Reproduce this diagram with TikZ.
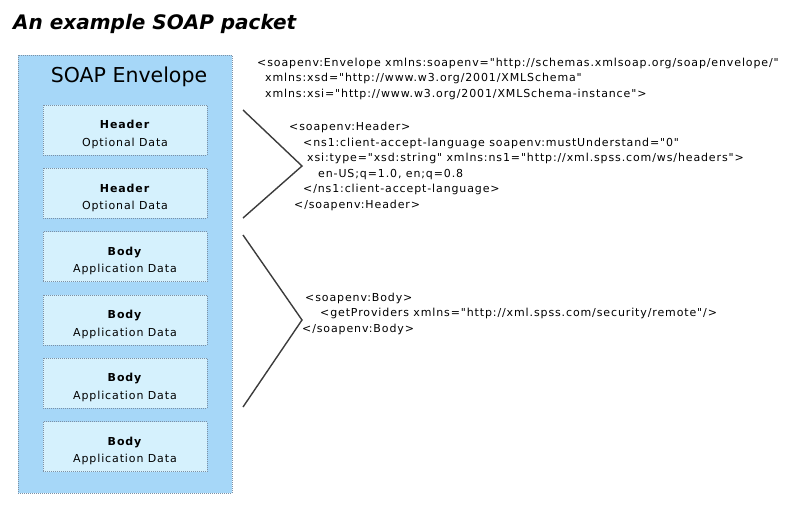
\documentclass[tikz,border=0pt]{standalone}
\usepackage{fontspec}
\setmainfont{DejaVu Sans}
\newfontfamily\xmlfont{DejaVu Sans}[Ligatures=TeXOff,LetterSpace=8]
\newfontfamily\boxfont{DejaVu Sans}[LetterSpace=8]
\usetikzlibrary{positioning}
\definecolor{envfill}{RGB}{166,215,248}
\definecolor{partfill}{RGB}{213,241,253}
\definecolor{edgegray}{RGB}{125,145,165}
\definecolor{chevgray}{RGB}{60,60,60}
\tikzset{
  envbox/.style={draw=edgegray,line width=0.8pt,dash pattern=on 1pt off 1pt,fill=envfill,
                 minimum width=214pt,minimum height=438pt,inner sep=0pt},
  partlbl/.style={align=center,inner sep=0pt,yshift=-4.5pt,font=\boxfont\fontsize{11}{17.5}\selectfont},
  part/.style={draw=edgegray,line width=0.8pt,dash pattern=on 1pt off 1pt,fill=partfill,
               minimum width=164pt,minimum height=50pt,inner sep=0pt,
               label={[partlbl]center:{#1}}},
  xml/.style={anchor=base west,align=left,inner sep=0pt,font=\xmlfont\fontsize{11}{15.5}\selectfont},
  chevron/.style={draw=chevgray,line width=1.4pt},
}
\begin{document}
\begin{tikzpicture}[x=1pt,y=-1pt]
  \useasboundingbox (0,0) rectangle (800,507);
  \node[anchor=base west,inner sep=0pt,font=\fontsize{20}{24}\selectfont\bfseries\itshape] (title) at (13,29) {An example SOAP packet};
  \node[envbox] (env) at (125,274) {};
  \node[anchor=base,inner sep=0pt,font=\fontsize{20.5}{24}\selectfont] (envname) at (129,82) {SOAP Envelope};
  \node[part={\textbf{Header}\\Optional Data}] (h1) at (125,130) {};
  \node[part={\textbf{Header}\\Optional Data},below=12.5pt of h1] (h2) {};
  \node[part={\textbf{Body}\\Application Data},below=12.5pt of h2] (b1) {};
  \node[part={\textbf{Body}\\Application Data},below=12.5pt of b1] (b2) {};
  \node[part={\textbf{Body}\\Application Data},below=12.5pt of b2] (b3) {};
  \node[part={\textbf{Body}\\Application Data},below=12.5pt of b3] (b4) {};
  % brackets
  \draw[chevron] (243,110) -- (302,166) -- (243,218);
  \draw[chevron] (243,235) -- (302,320) -- (243,407);
  % xml text (base = last line)
  \node[xml] (envxml) at (257,97) {<soapenv:Envelope xmlns:soapenv="http://schemas.xmlsoap.org/soap/envelope/"\\
    \hspace*{8pt}xmlns:xsd="http://www.w3.org/2001/XMLSchema"\\
    \hspace*{8pt}xmlns:xsi="http://www.w3.org/2001/XMLSchema-instance">};
  \node[xml] (hdrxml) at (289,208) {<soapenv:Header>\\
    \hspace*{14pt}<ns1:client-accept-language soapenv:mustUnderstand="0"\\
    \hspace*{18pt}xsi:type="xsd:string" xmlns:ns1="http://xml.spss.com/ws/headers">\\
    \hspace*{29pt}en-US;q=1.0, en;q=0.8\\
    \hspace*{14pt}</ns1:client-accept-language>\\
    \hspace*{5pt}</soapenv:Header>};
  \node[xml] (bodyxml) at (302,332) {\hspace*{3pt}<soapenv:Body>\\
    \hspace*{18pt}<getProviders xmlns="http://xml.spss.com/security/remote"/>\\
    </soapenv:Body>};
\end{tikzpicture}
\end{document}
